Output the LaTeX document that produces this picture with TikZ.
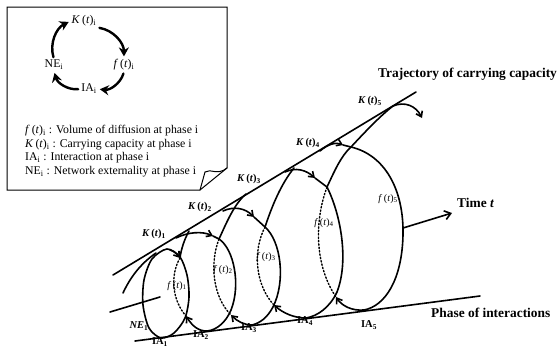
\documentclass[tikz,border=0pt]{standalone}
\usepackage{fontspec}
\setmainfont{Liberation Serif}
\usetikzlibrary{arrows.meta,calc}

\newcommand{\Kt}[1]{\textit{K}\,(\textit{t})\textsubscript{#1}}
\newcommand{\ft}[1]{\textit{f}\,(\textit{t})\textsubscript{#1}}

\begin{document}
\begin{tikzpicture}[x=1pt,y=-1pt,line cap=round,
  coil/.style={line width=1.6pt},
  back/.style={line width=1.4pt,dotted},
  tipr/.style={coil,-{Straight Barb[length=5pt,width=7pt]}},
  cyc/.style={line width=2.4pt,-{Stealth[length=9pt,width=10pt]},shorten >=2pt,shorten <=2pt},
  lbl/.style={inner sep=1pt,font=\fontsize{11.8}{14}\selectfont},
  klab/.style={inner sep=1pt,font=\fontsize{10.5}{12}\selectfont\bfseries},
  flab/.style={inner sep=1pt,font=\fontsize{10}{12}\selectfont},
  big/.style={inner sep=0pt,font=\fontsize{13.4}{15}\selectfont\bfseries}]
  \useasboundingbox (0,0) rectangle (559,349);

  % legend box with folded corner
  \draw[line width=1pt] (7,7) -- (227,7) -- (227,168) -- (200,190) -- (7,190) -- cycle;
  \draw[line width=1pt] (200,190) -- (205,172) .. controls (211,168) and (217,176) .. (227,168);

  % cycle of one phase
  \node[lbl] (k) at (84,21) {\Kt{i}};
  \node[lbl] (f) at (124,65) {\ft{i}};
  \node[lbl] (ia) at (89,89) {IA\textsubscript{i}};
  \node[lbl] (ne) at (54,65) {NE\textsubscript{i}};
  \draw[cyc] (k.south east) to[bend left=40] (f.north);
  \draw[cyc] (f.south) to[bend left=40] (ia.east);
  \draw[cyc] (ia.west) to[bend left=40] (ne.south);
  \draw[cyc] (ne.north) to[bend left=40] (k.west);

  \node[lbl,anchor=west] (lf) at (24,131) {\ft{i} : Volume of diffusion at phase i};
  \node[lbl,anchor=west] (lk) at (24,145) {\Kt{i} : Carrying capacity at phase i};
  \node[lbl,anchor=west] (lia) at (24,158) {IA\textsubscript{i} : Interaction at phase i};
  \node[lbl,anchor=west] (lne) at (24,172) {NE\textsubscript{i} : Network externality at phase i};

  % trajectory and phase lines
  \draw[coil] (113,275) -- (416,92);
  \draw[coil] (135,341) -- (480,296);
  \node[big,anchor=west] (traj) at (378,74) {Trajectory of carrying capacity};
  \node[big,anchor=west] (phase) at (431,313) {Phase of interactions};

  % junctions of the loops
  \coordinate (j1) at (180,258);
  \coordinate (j2) at (219,239);
  \coordinate (j3) at (265,227);
  \coordinate (j4) at (327,187);
  \coordinate (j5) at (351,147);
  \coordinate (d1) at (186,316);
  \coordinate (d2) at (231,315);
  \coordinate (d3) at (274,305);
  \coordinate (d4) at (336,297);
  \coordinate (b2) at (207,331);
  \coordinate (b3) at (252,325);
  \coordinate (b4) at (306,318);
  \coordinate (b5) at (364,310);

  % time axis
  \coordinate (t0) at (110,312);
  \coordinate (t1) at (160,297);
  \coordinate (t2) at (403,228);
  \coordinate (t3) at (452,213);
  \draw[coil] (t0) -- (t1);
  \node[big,anchor=west] (time) at (457,203) {Time \textit{t}};
  \draw[coil,-{Straight Barb[length=6pt,width=9pt]}] (t2) -- (t3);

  % loop 1
  \draw[coil] plot[smooth cycle] coordinates {(167,249) (180,257) (187,275) (189,297) (185,318) (174,333) (161,338) (149,328) (143,305) (144,280) (152,259)};
  \draw[coil] (123,293) .. controls (130,278) and (140,264) .. (156,253);
  \draw[tipr] (170,250) .. controls (174,251) and (177,254) .. (j1);
  \draw[back] (j1) .. controls (170,275) and (172,300) .. (d1);

  % loop 2
  \draw[coil] (j1) .. controls (181,250) and (184,240) .. (189,231);
  \draw[tipr] (176,238) .. controls (188,232) and (202,231) .. (213,236);
  \draw[coil] (213,236) -- (j2);
  \draw[coil] (j2) .. controls (234,249) and (241,285) .. (231,310) .. controls (226,322) and (217,330) .. (b2);
  \draw[tipr] (b2) .. controls (199,331) and (193,327) .. (d1);
  \draw[back] (j2) .. controls (210,262) and (212,296) .. (d2);

  % loop 3
  \draw[coil] (j2) .. controls (226,224) and (234,204) .. (246,194);
  \draw[tipr] (223,211) .. controls (234,206) and (245,208) .. (254,217);
  \draw[coil] (254,217) -- (j3);
  \draw[coil] (j3) .. controls (281,241) and (286,281) .. (273,307) .. controls (267,318) and (260,323) .. (b3);
  \draw[tipr] (b3) .. controls (244,325) and (237,321) .. (d2);
  \draw[back] (j3) .. controls (252,252) and (256,286) .. (d3);

  % loop 4
  \draw[coil] (j3) .. controls (272,206) and (281,184) .. (294,168);
  \draw[tipr] (285,172) .. controls (296,167) and (306,170) .. (315,178);
  \draw[coil] (315,178) -- (j4);
  \draw[coil] (j4) .. controls (341,215) and (349,261) .. (337,292) .. controls (330,307) and (318,316) .. (b4);
  \draw[tipr] (b4) .. controls (294,318) and (283,313) .. (d3);
  \draw[back] (j4) .. controls (314,222) and (315,266) .. (d4);

  % loop 5
  \draw[coil] (j4) .. controls (335,170) and (341,156) .. (j5) .. controls (364,133) and (380,116) .. (393,106);
  \draw[tipr] (393,106) .. controls (405,101) and (416,106) .. (422,118);
  \draw[tipr] (320,151) .. controls (328,144) and (336,142) .. (343,145);
  \draw[coil] (343,145) -- (j5);
  \draw[coil] (j5) .. controls (385,155) and (404,190) .. (403,235) .. controls (402,280) and (385,306) .. (b5);
  \draw[tipr] (b5) .. controls (352,311) and (342,306) .. (d4);

  % labels on the loops
  \node[klab] (k1) at (154,234) {\Kt{1}};
  \node[klab] (k2) at (200,207) {\Kt{2}};
  \node[klab] (k3) at (249,179) {\Kt{3}};
  \node[klab] (k4) at (308,143) {\Kt{4}};
  \node[klab] (k5) at (370,101) {\Kt{5}};
  \node[flab] (f1) at (177,286) {\ft{1}};
  \node[flab] (f2) at (223,270) {\ft{2}};
  \node[flab] (f3) at (266,257) {\ft{3}};
  \node[flab] (f4) at (324,223) {\ft{4}};
  \node[flab] (f5) at (388,199) {\ft{5}};
  \node[klab] (ia1) at (160,342) {IA\textsubscript{1}};
  \node[klab] (ia2) at (201,335) {IA\textsubscript{2}};
  \node[klab] (ia3) at (249,328) {IA\textsubscript{3}};
  \node[klab] (ia4) at (305,321) {IA\textsubscript{4}};
  \node[klab] (ia5) at (369,325) {IA\textsubscript{5}};
  \node[klab] (ne1) at (139,326) {\textit{NE}\textsubscript{1}};
\end{tikzpicture}
\end{document}
